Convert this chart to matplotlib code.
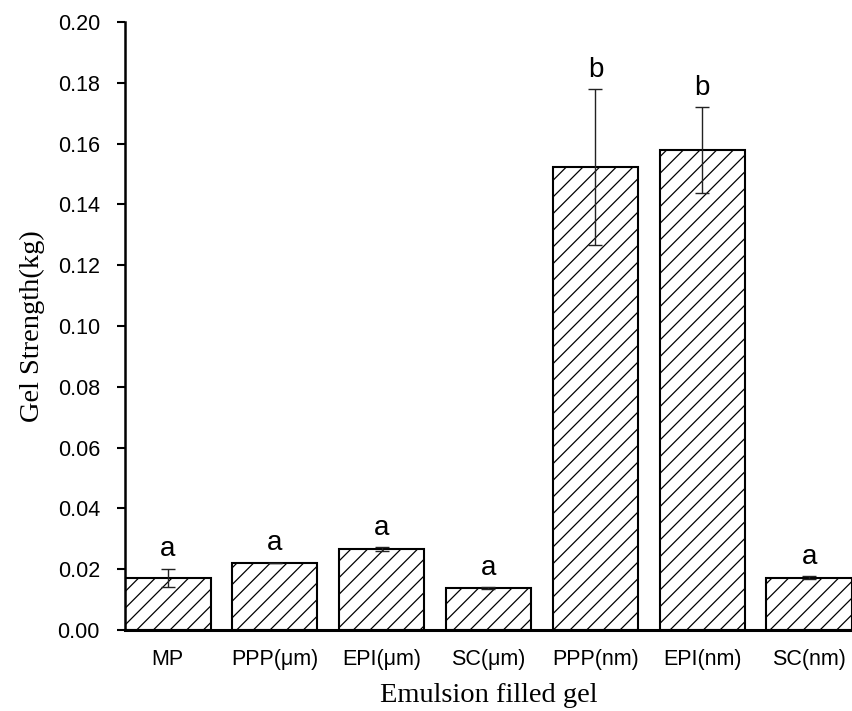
import numpy as np
import matplotlib
matplotlib.use("Agg")
import matplotlib.pyplot as plt

# Gel strength of emulsion filled gels
groups = ["MP", "PPP(μm)", "EPI(μm)", "SC(μm)", "PPP(nm)", "EPI(nm)", "SC(nm)"]
strength = [0.0171, 0.0220, 0.0266, 0.0138, 0.1523, 0.1579, 0.0172]
err = [0.0031, 0.0001, 0.0006, 0.0002, 0.0256, 0.0140, 0.0005]
letters = ["a", "a", "a", "a", "b", "b", "a"]

plt.rcParams["hatch.linewidth"] = 0.9

fig = plt.figure(figsize=(8.53, 7.11), dpi=100)
ax = fig.add_axes([125 / 853, 1 - 630 / 711, 727 / 853, 608 / 711])

x = np.arange(len(groups))
ax.bar(x, strength, width=0.8, color="white", edgecolor="black",
       linewidth=1.5, hatch="//")
ax.errorbar(x, strength, yerr=err, fmt="none", ecolor="#222222",
            elinewidth=1, capsize=5, capthick=1)

for xi, v, e, t in zip(x, strength, err, letters):
    ax.annotate(t, (xi, v + e), xytext=(0, 9), textcoords="offset points",
                ha="center", va="baseline", fontsize=20, family="Liberation Sans")

ax.set_xlim(-0.4, 6.4)
ax.set_ylim(0, 0.2)
ax.set_yticks(np.arange(0, 0.201, 0.02))
ax.set_yticklabels([f"{v:.2f}" for v in np.arange(0, 0.201, 0.02)])
ax.set_xticks(x)
ax.set_xticklabels(groups)

for lab in ax.get_xticklabels() + ax.get_yticklabels():
    lab.set_family("Liberation Sans")
    lab.set_fontsize(15.5)

ax.tick_params(axis="x", length=0, pad=14)
ax.tick_params(axis="y", length=6, width=1.5, direction="out", pad=12)

ax.spines["top"].set_visible(False)
ax.spines["right"].set_visible(False)
ax.spines["left"].set_linewidth(1.8)
ax.spines["bottom"].set_linewidth(2.2)

ax.set_xlabel("Emulsion filled gel", family="Liberation Serif", fontsize=20.5)
ax.xaxis.set_label_coords(0.5, -0.087)
ax.set_ylabel("Gel Strength(kg)", family="Liberation Serif", fontsize=20.5)
ax.yaxis.set_label_coords(-0.110, 0.5)

fig.savefig("out.png", dpi=100)
